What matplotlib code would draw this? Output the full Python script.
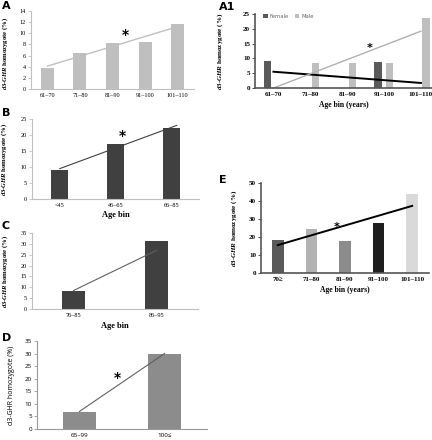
import matplotlib.pyplot as plt

plt.rcParams['mathtext.fontset'] = 'custom'
plt.rcParams['mathtext.it'] = 'Liberation Serif:bold:italic'
plt.rcParams['mathtext.rm'] = 'Liberation Serif:bold'

# --- data ---
cats_a = ["61–70", "71–80", "81–90", "91–100", "101–110"]
vals_a = [3.7, 6.4, 8.3, 8.5, 11.7]
trend_a = [4.1, 11.2]

cats_a1 = ["61–70", "71–80", "81–90", "91–100", "101–110"]
female_a1 = [9.0, 0, 0, 8.8, 0]
male_a1 = [0, 8.5, 8.3, 8.3, 23.5]
trend_a1_female = [5.5, 1.7]
trend_a1_male = [0.0, 19.2]

cats_b = ["<45", "46–65", "66–85"]
vals_b = [9.0, 17.2, 22.2]
trend_b = [9.5, 23.0]

cats_c = ["76–85", "86–95"]
vals_c = [8.5, 31.3]
trend_c = [8.5, 27.0]

cats_d = ["65–99", "100≤"]
vals_d = [6.7, 30.0]
trend_d = [7.0, 30.0]

cats_e = ["70≥", "71–80", "81–90", "91–100", "101–110"]
vals_e = [18.3, 24.3, 18.0, 27.6, 43.9]
colors_e = ["#5a5a5a", "#b3b3b3", "#8c8c8c", "#1e1e1e", "#d9d9d9"]
trend_e = [15.5, 37.3]

SERIF = "Liberation Serif"
YLAB = r"$d3$-$GHR$ homozygote (%)"

fig = plt.figure(figsize=(4.32, 4.40), dpi=100)


def axes_px(x0, x1, y0, y1):
    W, H = 432, 440
    return fig.add_axes([x0 / W, 1 - y1 / H, (x1 - x0) / W, (y1 - y0) / H])


def style(ax, spine_col="#bfbfbf", tick_size=4.5, bold=False, family=SERIF):
    for s in ["top", "right"]:
        ax.spines[s].set_visible(False)
    for s in ["left", "bottom"]:
        ax.spines[s].set_color(spine_col)
        ax.spines[s].set_linewidth(0.8)
    ax.tick_params(axis="x", length=0, pad=3)
    ax.tick_params(axis="y", length=2, width=0.6, color=spine_col, pad=1.5)
    for lab in ax.get_xticklabels() + ax.get_yticklabels():
        lab.set_fontsize(tick_size)
        lab.set_family(family)
        if bold:
            lab.set_fontweight("bold")


def panel_label(x, y, s):
    fig.text(x / 432, 1 - y / 440, s, fontsize=8, fontweight="bold",
             family="DejaVu Sans", va="center", ha="left")


# ---- A ----
ax = axes_px(31, 194, 11, 89)
xa = range(len(cats_a))
ax.bar(xa, vals_a, width=0.4, color="#bfbfbf")
ax.plot([0, 4], trend_a, color="#bfbfbf", lw=1)
ax.text(2.4, 9.0, "*", fontsize=10, fontweight="bold", ha="center")
ax.set_xlim(-0.5, 4.5)
ax.set_ylim(0, 14)
ax.set_yticks(range(0, 15, 2))
ax.set_xticks(list(xa))
ax.set_xticklabels(cats_a)
style(ax)
ax.set_ylabel(YLAB, fontsize=4.8, family=SERIF, fontweight="bold")
ax.yaxis.set_label_coords(-0.13, 0.46)
panel_label(2, 6, "A")

# ---- A1 ----
ax = axes_px(255, 432, 14, 88)
xa1 = list(range(len(cats_a1)))
ax.bar([x - 0.16 for x in xa1], female_a1, width=0.2, color="#5a5a5a", label="Female")
ax.bar([x + 0.14 for x in xa1], male_a1, width=0.2, color="#bfbfbf", label="Male")
ax.plot([0, 4], trend_a1_female, color="black", lw=1.4)
ax.plot([0, 4], trend_a1_male, color="#b0b0b0", lw=1)
ax.text(2.6, 12.5, "*", fontsize=8, fontweight="bold", ha="center")
ax.set_xlim(-0.5, 4.3)
ax.set_ylim(0, 25)
ax.set_yticks(range(0, 26, 5))
ax.set_xticks(xa1)
ax.set_xticklabels(cats_a1)
style(ax, spine_col="#555555", tick_size=5, bold=True)
ax.spines["left"].set_linewidth(1.2)
ax.spines["bottom"].set_linewidth(1.2)
ax.tick_params(axis="y", color="#333333")
ax.set_ylabel(YLAB, fontsize=5, family=SERIF, fontweight="bold")
ax.yaxis.set_label_coords(-0.17, 0.5)
ax.set_xlabel("Age bin (years)", fontsize=5.5, family=SERIF, fontweight="bold", labelpad=3)
ax.legend(loc="upper left", bbox_to_anchor=(0.02, 1.06), ncol=2, frameon=False,
          prop={"size": 3.8, "family": "DejaVu Sans"}, handlelength=0.8,
          handleheight=0.8, columnspacing=1.2, handletextpad=0.4, labelcolor="#666666")
panel_label(219, 7, "A1")

# ---- B ----
ax = axes_px(32, 199, 119, 199)
xb = list(range(len(cats_b)))
ax.bar(xb, vals_b, width=0.3, color="#404040")
ax.plot([0, 2.1], trend_b, color="#404040", lw=0.8)
ax.text(1.12, 18.3, "*", fontsize=10, fontweight="bold", ha="center")
ax.set_xlim(-0.5, 2.5)
ax.set_ylim(0, 25)
ax.set_yticks(range(0, 26, 5))
ax.set_xticks(xb)
ax.set_xticklabels(cats_b)
style(ax)
ax.set_ylabel(YLAB, fontsize=4.8, family=SERIF, fontweight="bold")
ax.yaxis.set_label_coords(-0.135, 0.5)
ax.set_xlabel("Age bin", fontsize=6, family=SERIF, fontweight="bold", labelpad=2)
panel_label(2, 113, "B")

# ---- C ----
ax = axes_px(32, 198, 233, 309)
xc = list(range(len(cats_c)))
ax.bar(xc, vals_c, width=0.28, color="#404040")
ax.plot([0, 1], trend_c, color="#606060", lw=0.8)
ax.set_xlim(-0.5, 1.5)
ax.set_ylim(0, 35)
ax.set_yticks(range(0, 36, 5))
ax.set_xticks(xc)
ax.set_xticklabels(cats_c)
style(ax)
ax.set_ylabel(YLAB, fontsize=4.8, family=SERIF, fontweight="bold")
ax.yaxis.set_label_coords(-0.13, 0.5)
ax.set_xlabel("Age bin", fontsize=6, family=SERIF, fontweight="bold", labelpad=3)
panel_label(2, 226, "C")

# ---- D ----
ax = axes_px(37, 207, 341, 429)
xd = list(range(len(cats_d)))
ax.bar(xd, vals_d, width=0.39, color="#8c8c8c")
ax.plot([0, 1], trend_d, color="#606060", lw=0.8)
ax.text(0.44, 18.5, "*", fontsize=10, fontweight="bold", ha="center")
ax.set_xlim(-0.5, 1.5)
ax.set_ylim(0, 35)
ax.set_yticks(range(0, 36, 5))
ax.set_xticks(xd)
ax.set_xticklabels(cats_d)
style(ax, spine_col="#999999", family="Open Sans")
ax.set_ylabel("d3-GHR homozygote (%)", fontsize=5, family="Open Sans")
ax.yaxis.set_label_coords(-0.13, 0.5)
panel_label(2, 338, "D")

# ---- E ----
ax = axes_px(261, 429, 183, 273)
xe = list(range(len(cats_e)))
ax.bar(xe, vals_e, width=0.35, color=colors_e)
ax.plot([0, 4], trend_e, color="black", lw=1.4)
ax.text(1.76, 24.0, "*", fontsize=8, fontweight="bold", ha="center")
ax.set_xlim(-0.5, 4.5)
ax.set_ylim(0, 50)
ax.set_yticks(range(0, 51, 10))
ax.set_xticks(xe)
ax.set_xticklabels(cats_e)
style(ax, spine_col="#555555", tick_size=5, bold=True)
ax.spines["left"].set_linewidth(1.2)
ax.spines["bottom"].set_linewidth(1.2)
ax.tick_params(axis="y", color="#333333")
ax.set_ylabel(YLAB, fontsize=5, family=SERIF, fontweight="bold")
ax.yaxis.set_label_coords(-0.13, 0.5)
ax.set_xlabel("Age bin (years)", fontsize=5.5, family=SERIF, fontweight="bold", labelpad=3)
panel_label(219, 180, "E")

fig.savefig("out.png", dpi=100)
